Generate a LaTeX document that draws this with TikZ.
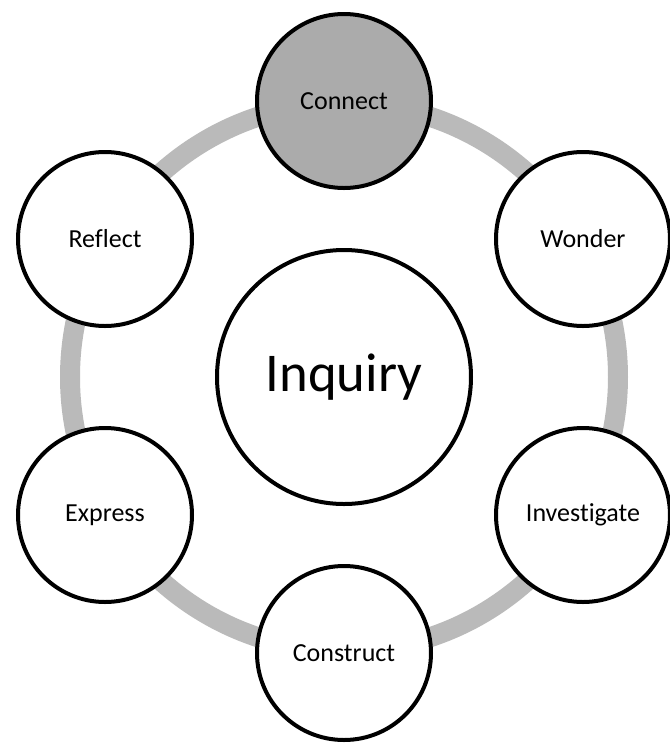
\documentclass[tikz,border=0pt]{standalone}
\usepackage{fontspec}
\setmainfont{Carlito}[Ligatures=NoCommon]
\usepackage{tikz}
\usetikzlibrary{positioning}

\begin{document}
\begin{tikzpicture}[x=0.75pt,y=-0.75pt,
       stage/.style={circle,draw=black,line width=3pt,fill=white,inner sep=0pt,minimum size=130.5pt,font=\fontsize{19.5}{21}\selectfont},
       hub/.style={circle,draw=black,line width=3pt,fill=white,inner sep=0pt,minimum size=190.5pt,font=\fontsize{41}{44}\selectfont},
       ring/.style={draw=black!27,line width=15pt}]

       \useasboundingbox (0,0) rectangle (670,744);

       \coordinate (c) at (344,377);
       \draw[ring] (c) circle[radius=274];

       \node[hub] (inquiry) at (c) {Inquiry};

       \node[stage,fill=black!33] (connect) at (344,101) {Connect};
       \node[stage] (wonder) at (583,239) {Wonder};
       \node[stage] (investigate) at (583,515) {Investigate};
       \node[stage] (construct) at (344,653) {Construct};
       \node[stage] (express) at (105,515) {Express};
       \node[stage] (reflect) at (105,239) {Reflect};

    \end{tikzpicture}
\end{document}
